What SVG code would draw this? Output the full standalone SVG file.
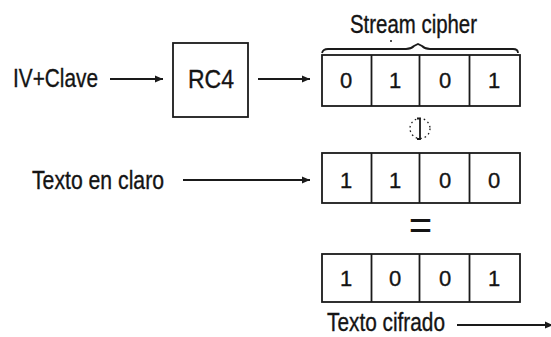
<svg xmlns="http://www.w3.org/2000/svg" width="551" height="337" viewBox="0 0 551 337">
  <style>
    .lbl { font-family: "Liberation Sans", Arial, sans-serif; font-size: 25px; fill: #141414; stroke: #141414; stroke-width: 0.35; }
    .bit { font-family: "Liberation Sans", Arial, sans-serif; font-size: 22px; fill: #141414; stroke: #141414; stroke-width: 0.35; text-anchor: middle; }
    .box { fill: none; stroke: #1a1a1a; stroke-width: 1.8; }
    .wire { fill: none; stroke: #1a1a1a; stroke-width: 1.8; }
  </style>
  <defs>
    <marker id="head" viewBox="0 0 8 8" refX="8" refY="4" markerWidth="8" markerHeight="8" markerUnits="userSpaceOnUse" orient="auto">
      <path d="M0,0.5 L8,4 L0,7.5 Z" fill="#1a1a1a"/>
    </marker>
  </defs>
  <rect width="551" height="337" fill="#ffffff"/>

  <!-- input labels -->
  <g id="iv-clave">
    <text class="lbl" x="13" y="87" textLength="85" lengthAdjust="spacingAndGlyphs">IV+Clave</text>
  </g>

  <g id="rc4">
    <rect class="box" x="173" y="43" width="75" height="74"/>
    <text class="lbl" x="188" y="88" textLength="46" lengthAdjust="spacingAndGlyphs">RC4</text>
  </g>

  <!-- keystream register -->
  <g id="stream-cipher">
    <text class="lbl" x="350" y="33" textLength="127" lengthAdjust="spacingAndGlyphs">Stream cipher</text>
    <path class="wire" stroke-width="1.4" d="M322,53 Q323,49 328,49 L406,49 Q411,49 414,46 L418,44 L422,46 Q425,49 430,49 L513,49 Q518,49 518,53"/>
    <circle cx="391" cy="41" r="1" fill="#1a1a1a"/>
    <rect class="box" x="322" y="55" width="198" height="51"/>
    <line class="wire" x1="371.5" y1="55" x2="371.5" y2="106"/>
    <line class="wire" x1="419.5" y1="55" x2="419.5" y2="106"/>
    <line class="wire" x1="469.5" y1="55" x2="469.5" y2="106"/>
    <text class="bit" x="346" y="88">0</text>
    <text class="bit" x="395" y="88">1</text>
    <text class="bit" x="445" y="88">0</text>
    <text class="bit" x="494" y="88">1</text>
  </g>

  <!-- XOR operator -->
  <g id="xor">
    <circle cx="420" cy="128.5" r="10" fill="none" stroke="#1a1a1a" stroke-width="1.3" stroke-dasharray="1.6 3"/>
    <path class="wire" d="M417,118.5 L420,118.5 L420,139 L417,139"/>
  </g>

  <g id="texto-en-claro">
    <text class="lbl" x="32" y="189" textLength="132" lengthAdjust="spacingAndGlyphs">Texto en claro</text>
  </g>

  <!-- plaintext register -->
  <g id="plaintext">
    <rect class="box" x="322" y="153" width="198" height="50"/>
    <line class="wire" x1="371.5" y1="153" x2="371.5" y2="203"/>
    <line class="wire" x1="419.5" y1="153" x2="419.5" y2="203"/>
    <line class="wire" x1="469.5" y1="153" x2="469.5" y2="203"/>
    <text class="bit" x="346" y="188">1</text>
    <text class="bit" x="395" y="188">1</text>
    <text class="bit" x="445" y="188">0</text>
    <text class="bit" x="494" y="188">0</text>
  </g>

  <g id="equals">
    <text x="420.5" y="239" text-anchor="middle" font-family="'Liberation Mono', 'Courier New', monospace" font-size="40" fill="#141414">=</text>
  </g>

  <!-- ciphertext register -->
  <g id="ciphertext">
    <rect class="box" x="322" y="254" width="198" height="48"/>
    <line class="wire" x1="371.5" y1="254" x2="371.5" y2="302"/>
    <line class="wire" x1="419.5" y1="254" x2="419.5" y2="302"/>
    <line class="wire" x1="469.5" y1="254" x2="469.5" y2="302"/>
    <text class="bit" x="346" y="286">1</text>
    <text class="bit" x="395" y="286">0</text>
    <text class="bit" x="445" y="286">0</text>
    <text class="bit" x="494" y="286">1</text>
  </g>

  <g id="texto-cifrado">
    <text class="lbl" x="327" y="331" textLength="118" lengthAdjust="spacingAndGlyphs">Texto cifrado</text>
  </g>

  <!-- connectors -->
  <g id="connectors">
    <line class="wire" x1="457" y1="325" x2="553" y2="325" marker-end="url(#head)"/>
    <line class="wire" x1="110" y1="79" x2="163" y2="79" marker-end="url(#head)"/>
    <line class="wire" x1="258" y1="79" x2="310" y2="79" marker-end="url(#head)"/>
    <line class="wire" x1="183" y1="180" x2="310" y2="180" marker-end="url(#head)"/>
  </g>
</svg>
